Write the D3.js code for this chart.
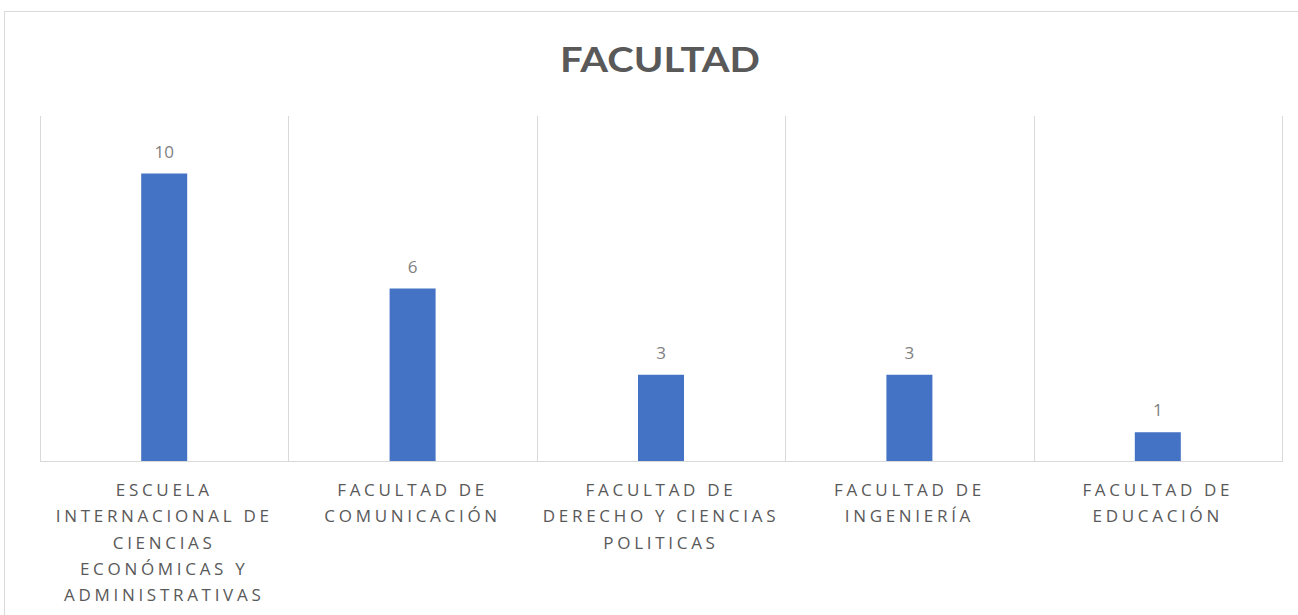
<!DOCTYPE html>
<html>
<head>
<meta charset="utf-8">
<title>Facultad</title>
<script src="https://cdnjs.cloudflare.com/ajax/libs/d3/7.8.5/d3.min.js"></script>
<style>
  body { margin: 0; background: #fff; }
  svg { display: block; }
</style>
</head>
<body>
<script>
// datos
var categorias = ["ESCUELA INTERNACIONAL DE CIENCIAS ECONÓMICAS Y ADMINISTRATIVAS",
                  "FACULTAD DE COMUNICACIÓN",
                  "FACULTAD DE DERECHO Y CIENCIAS POLITICAS",
                  "FACULTAD DE INGENIERÍA",
                  "FACULTAD DE EDUCACIÓN"];
var etiquetas = [["ESCUELA", "INTERNACIONAL DE", "CIENCIAS", "ECONÓMICAS Y", "ADMINISTRATIVAS"],
                 ["FACULTAD DE", "COMUNICACIÓN"],
                 ["FACULTAD DE", "DERECHO Y CIENCIAS", "POLITICAS"],
                 ["FACULTAD DE", "INGENIERÍA"],
                 ["FACULTAD DE", "EDUCACIÓN"]];
var valores = [10, 6, 3, 3, 1];

var width = 1298, height = 615;
var plot = {left: 40, right: 1282, top: 116, bottom: 461};
var gris = "#595959";

var svg = d3.select("body").append("svg")
    .attr("width", width)
    .attr("height", height);

// marco del grafico
svg.append("rect")
    .attr("x", 4.5).attr("y", 11.5)
    .attr("width", 1400).attr("height", 800)
    .attr("fill", "white")
    .attr("stroke", "#d9d9d9");

svg.append("text")
    .attr("x", 660).attr("y", 72)
    .attr("text-anchor", "middle")
    .attr("font-family", "Lato, 'Open Sans', sans-serif")
    .attr("font-weight", "bold")
    .attr("font-size", 35)
    .attr("fill", gris)
    .attr("textLength", 200)
    .attr("lengthAdjust", "spacingAndGlyphs")
    .text("FACULTAD");

var x = d3.scaleBand()
    .domain(categorias)
    .range([plot.left, plot.right])
    .paddingInner(0).paddingOuter(0);

var y = d3.scaleLinear()
    .domain([0, 12])
    .range([plot.bottom, plot.top]);

// separadores verticales
var bordes = categorias.map(function(c) { return x(c); }).concat([plot.right]);
svg.selectAll(".sep")
    .data(bordes)
    .enter().append("line")
    .attr("class", "sep")
    .attr("x1", d => Math.round(d) + 0.5).attr("x2", d => Math.round(d) + 0.5)
    .attr("y1", plot.top).attr("y2", plot.bottom)
    .attr("stroke", "#d9d9d9");

svg.append("line")
    .attr("x1", plot.left).attr("x2", plot.right + 1)
    .attr("y1", plot.bottom + 0.5).attr("y2", plot.bottom + 0.5)
    .attr("stroke", "#d9d9d9");

var barW = 46;
svg.selectAll(".bar")
    .data(valores)
    .enter().append("rect")
    .attr("class", "bar")
    .attr("x", (d, i) => x(categorias[i]) + x.bandwidth() / 2 - barW / 2)
    .attr("y", d => y(d))
    .attr("width", barW)
    .attr("height", d => plot.bottom - y(d))
    .attr("fill", "#4472c4");

svg.selectAll(".valor")
    .data(valores)
    .enter().append("text")
    .attr("class", "valor")
    .attr("x", (d, i) => x(categorias[i]) + x.bandwidth() / 2)
    .attr("y", d => y(d) - 16)
    .attr("text-anchor", "middle")
    .attr("font-family", "'Open Sans', sans-serif")
    .attr("font-size", 17)
    .attr("fill", "#7f7f7f")
    .text(d => d);

// etiquetas del eje
var grupos = svg.selectAll(".cat")
    .data(etiquetas)
    .enter().append("text")
    .attr("class", "cat")
    .attr("text-anchor", "middle")
    .attr("font-family", "'Open Sans', sans-serif")
    .attr("font-size", 17)
    .attr("letter-spacing", 3.7)
    .attr("fill", gris);

grupos.each(function(lineas, i) {
    var cx = x(categorias[i]) + x.bandwidth() / 2;
    d3.select(this).selectAll("tspan")
        .data(lineas)
        .enter().append("tspan")
        .attr("x", cx)
        .attr("y", (d, j) => 496 + j * 26.3)
        .text(d => d);
});
</script>
</body>
</html>
